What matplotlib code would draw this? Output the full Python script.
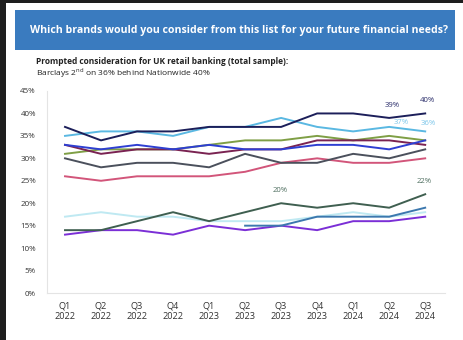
import matplotlib
matplotlib.use("Agg")
import matplotlib.pyplot as plt
from matplotlib.patches import Rectangle
import numpy as np

# Quarter labels on the x axis
quarters = ["Q1\n2022", "Q2\n2022", "Q3\n2022", "Q4\n2022",
            "Q1\n2023", "Q2\n2023", "Q3\n2023", "Q4\n2023",
            "Q1\n2024", "Q2\n2024", "Q3\n2024"]

# Prompted consideration (%) per brand
nationwide = [37, 34, 36, 36, 37, 37, 37, 40, 40, 39, 40]
barclays = [35, 36, 36, 35, 37, 37, 39, 37, 36, 37, 36]
brand_green = [31, 32, 32, 32, 33, 34, 34, 35, 34, 35, 34]
brand_blue = [33, 32, 33, 32, 33, 32, 32, 33, 33, 32, 34]
brand_maroon = [33, 31, 32, 32, 31, 32, 32, 34, 34, 34, 33]
brand_grey = [30, 28, 29, 29, 28, 31, 29, 29, 31, 30, 32]
brand_pink = [26, 25, 26, 26, 26, 27, 29, 30, 29, 29, 30]
brand_forest = [14, 14, 16, 18, 16, 18, 20, 19, 20, 19, 22]
brand_cyan = [17, 18, 17, 17, 16, 16, 16, 17, 18, 17, 18]
brand_steel = [np.nan, np.nan, np.nan, np.nan, np.nan, 15, 15, 17, 17, 17, 19]
brand_purple = [13, 14, 14, 13, 15, 14, 15, 14, 16, 16, 17]

y_ticks = [0, 5, 10, 15, 20, 25, 30, 35, 40, 45]

series = [
    (brand_cyan, "#bfe9f2"),
    (brand_purple, "#7b2fd6"),
    (brand_steel, "#3c78ae"),
    (brand_forest, "#3f5f50"),
    (brand_pink, "#d2557a"),
    (brand_grey, "#4b505c"),
    (brand_green, "#7f9f45"),
    (brand_maroon, "#7a2352"),
    (brand_blue, "#2e3fd2"),
    (barclays, "#5ab8e2"),
    (nationwide, "#1c1f5a"),
]

W, H = 463, 340
fig = plt.figure(figsize=(W / 100, H / 100), dpi=100, facecolor="#1e1e1e")

# White page area and heading banner
fig.patches.append(Rectangle((6 / W, 0), 1, (H - 3) / H, transform=fig.transFigure,
                             facecolor="white", edgecolor="none", zorder=-2))
fig.patches.append(Rectangle((15 / W, (H - 50) / H), 440 / W, 40 / H,
                             transform=fig.transFigure, facecolor="#3a7bbf",
                             edgecolor="none", zorder=-1))
fig.text(239 / W, (H - 31) / H,
         "Which brands would you consider from this list for your future financial needs?",
         color="white", fontsize=7.6, fontweight="bold", family="Open Sans",
         ha="center", va="center")
fig.text(36 / W, (H - 61) / H,
         "Prompted consideration for UK retail banking (total sample):",
         color="#222222", fontsize=6.0, fontweight="bold", family="Open Sans",
         ha="left", va="center")
fig.text(36 / W, (H - 73) / H,
         "Barclays 2$^{\\mathregular{nd}}$ on 36% behind Nationwide 40%",
         color="#222222", fontsize=6.0, family="Open Sans", ha="left", va="center")

ax = fig.add_axes([47 / W, (H - 293) / H, (445 - 47) / W, (293 - 91) / H])
ax.set_zorder(3)
ax.set_facecolor("white")
x = np.arange(len(quarters))
for values, color in series:
    ax.plot(x, values, color=color, lw=1.4, solid_joinstyle="round")

ax.set_xlim(-0.5, len(quarters) - 0.45)
ax.set_ylim(0, 45)
ax.set_xticks(x)
ax.set_xticklabels(quarters, fontsize=6.6, family="Open Sans", color="#333333",
                   linespacing=1.2)
ax.set_yticks(y_ticks)
ax.set_yticklabels([f"{v}%" for v in y_ticks], fontsize=5.8, family="Open Sans",
                   color="#333333")
ax.tick_params(length=0)
ax.tick_params(axis="y", pad=8)
ax.tick_params(axis="x", pad=6)
for side in ("top", "right"):
    ax.spines[side].set_visible(False)
for side in ("left", "bottom"):
    ax.spines[side].set_color("#e4e4e4")
    ax.spines[side].set_linewidth(0.8)

# Value labels on selected points
def label(values, i, color, dx=0, dy=9):
    ax.annotate(f"{values[i]:.0f}%", (x[i], values[i]), textcoords="offset points",
                xytext=(dx, dy), ha="center", va="center", fontsize=5.6,
                family="Open Sans", color=color)

label(nationwide, 9, "#2a2d6a", dx=2)
label(nationwide, 10, "#2a2d6a", dx=1.5)
label(barclays, 9, "#7cc6ea", dx=9, dy=3)
label(barclays, 10, "#7cc6ea", dx=2.5, dy=6)
label(brand_forest, 6, "#4f6f60", dx=-1)
label(brand_forest, 10, "#4f6f60", dx=-1)

fig.savefig("out.png", dpi=100, facecolor=fig.get_facecolor())
